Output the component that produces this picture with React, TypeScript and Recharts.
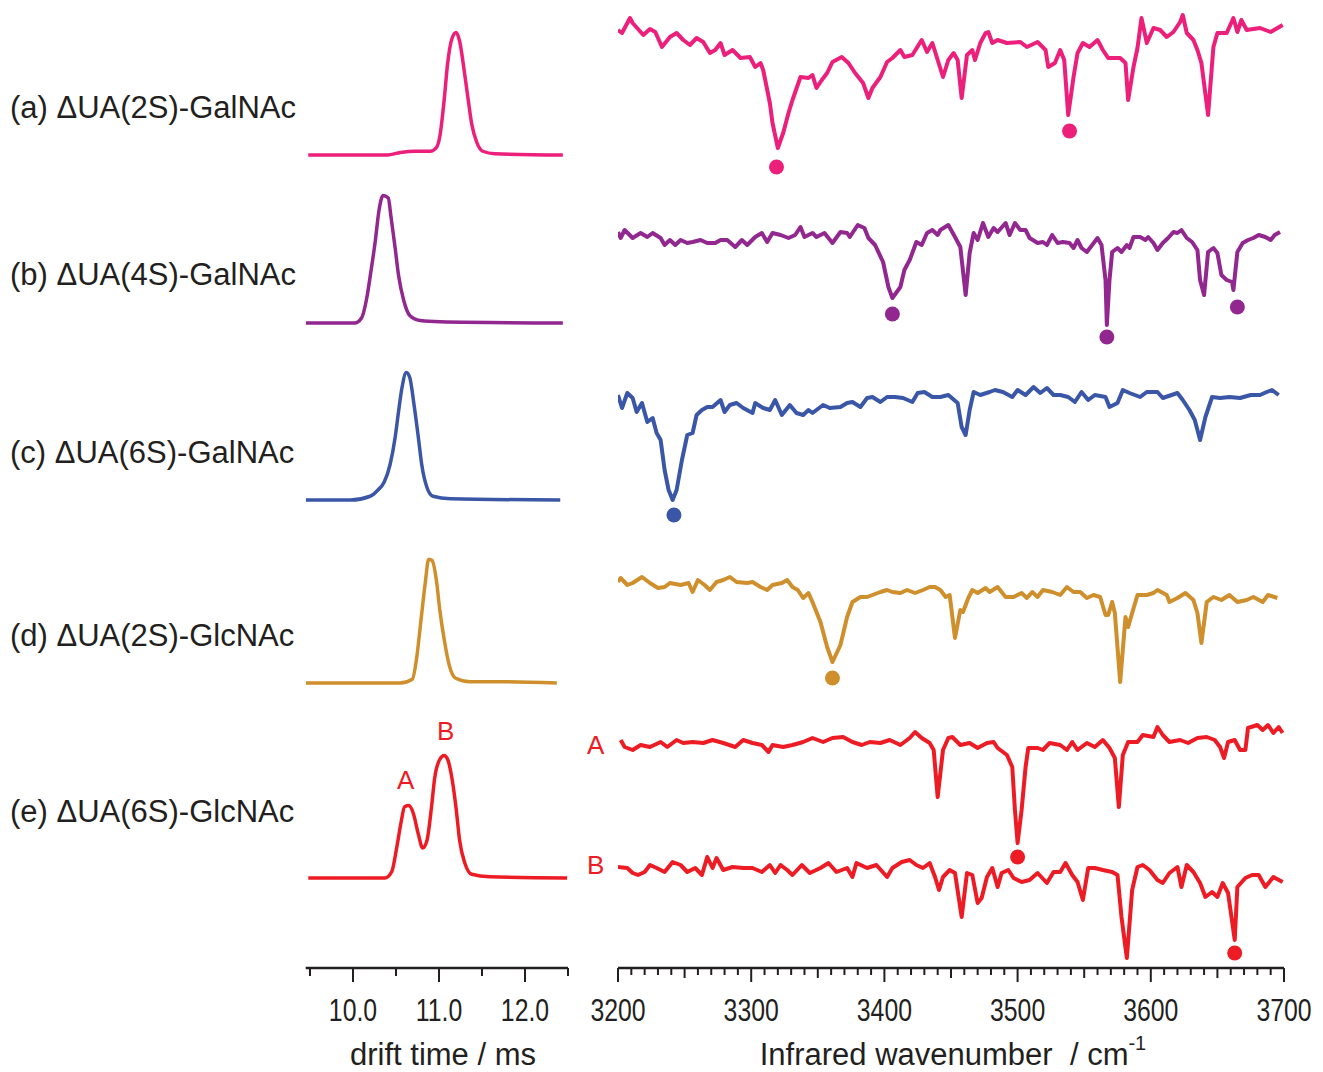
import React from 'react';
import { ComposedChart, Line, XAxis, YAxis, ReferenceDot } from 'recharts';

const FONT = "'Liberation Sans', Arial, Helvetica, sans-serif";
const INK = '#231f20';

const COL_A = '#ec1f7b';
const COL_B = '#92278f';
const COL_C = '#3a56a7';
const COL_D = '#cf8f2c';
const COL_E = '#ed1c24';

// ---------- drift time traces: [drift time (ms), relative intensity] ----------
const dtA: [number, number][] = [
  [9.48, 0], [10.4, 0], [10.55, 0.02], [10.72, 0.03], [10.9, 0.03], [10.97, 0.06], [11.01, 0.15],
  [11.06, 0.44], [11.1, 0.73], [11.15, 0.93], [11.2, 0.98], [11.24, 0.91], [11.29, 0.69], [11.34, 0.44],
  [11.38, 0.25], [11.44, 0.1], [11.51, 0.03], [11.65, 0.01], [12.44, 0],
];
const dtB: [number, number][] = [
  [9.45, 0], [10.02, 0], [10.1, 0.04], [10.16, 0.2], [10.21, 0.42], [10.26, 0.66], [10.3, 0.89],
  [10.35, 1.02], [10.41, 1.0], [10.44, 0.86], [10.49, 0.6], [10.53, 0.38], [10.59, 0.18], [10.66, 0.06],
  [10.78, 0.02], [11.01, 0.01], [12.44, 0],
];
const dtC: [number, number][] = [
  [9.45, 0], [9.97, 0], [10.2, 0.03], [10.29, 0.08], [10.36, 0.14], [10.43, 0.28], [10.49, 0.5],
  [10.53, 0.71], [10.57, 0.9], [10.62, 1.02], [10.66, 0.98], [10.71, 0.76], [10.76, 0.5], [10.8, 0.28],
  [10.86, 0.1], [10.93, 0.03], [11.13, 0.01], [12.41, 0],
];
const dtD: [number, number][] = [
  [9.45, 0], [10.55, 0], [10.69, 0.03], [10.74, 0.2], [10.79, 0.5], [10.84, 0.8], [10.88, 0.99],
  [10.92, 0.98], [10.97, 0.82], [11.01, 0.58], [11.06, 0.35], [11.12, 0.14], [11.19, 0.04],
  [11.36, 0.01], [11.71, 0.01], [12.37, 0],
];
const dtE: [number, number][] = [
  [9.48, 0], [10.37, 0], [10.45, 0.05], [10.51, 0.25], [10.56, 0.45], [10.6, 0.57], [10.65, 0.58],
  [10.7, 0.52], [10.76, 0.35], [10.81, 0.24], [10.86, 0.3], [10.91, 0.55], [10.95, 0.8], [11.01, 0.95],
  [11.06, 0.98], [11.1, 0.95], [11.15, 0.8], [11.2, 0.55], [11.24, 0.3], [11.3, 0.12], [11.38, 0.03],
  [11.59, 0.01], [12.49, 0],
];

// ---------- IR spectra: [wavenumber (cm-1), signal (arb.)] ----------
const irA: [number, number][] = [
  [3200, 0], [3203, -0.3], [3209, 1.2], [3211, 0.7], [3219, -0.5], [3224, 0.1], [3228, -0.2], [3233, -1.7],
  [3239, -0.7], [3244, -0.3], [3249, -1.0], [3254, -1.5], [3259, -0.8], [3264, -1.2], [3269, -2.3],
  [3273, -2.0], [3277, -1.3], [3280, -2.5], [3286, -2.0], [3292, -2.8], [3299, -2.7], [3303, -3.7],
  [3307, -3.3], [3309, -4.0], [3314, -7.3], [3316, -9.3], [3320, -11.8], [3324, -10.3], [3328, -8.3],
  [3331, -7.0], [3337, -4.7], [3343, -4.8], [3346, -4.5], [3349, -5.8], [3353, -5.0], [3357, -4.3],
  [3361, -3.2], [3368, -2.7], [3373, -3.3], [3378, -4.3], [3384, -5.3], [3388, -6.8], [3391, -5.8],
  [3397, -4.7], [3402, -3.2], [3406, -2.8], [3412, -2.0], [3415, -2.7], [3421, -2.5], [3428, -1.0],
  [3432, -2.2], [3436, -1.3], [3444, -4.7], [3448, -3.0], [3452, -2.3], [3455, -3.0], [3458, -6.8],
  [3462, -2.5], [3466, -2.0], [3468, -3.0], [3472, -1.3], [3476, -0.3], [3478, -0.2], [3481, -1.3],
  [3485, -1.0], [3492, -1.3], [3502, -1.2], [3507, -1.7], [3515, -1.2], [3521, -2.0], [3523, -3.7],
  [3528, -3.3], [3532, -2.0], [3535, -3.0], [3538, -8.5], [3542, -4.7], [3545, -2.3], [3549, -1.3],
  [3554, -1.7], [3560, -1.0], [3564, -2.0], [3568, -2.8], [3577, -2.8], [3581, -3.3], [3583, -7.0],
  [3587, -3.7], [3590, -1.8], [3593, 1.2], [3597, -1.3], [3602, 0.2], [3607, 0], [3612, -0.7],
  [3617, -0.2], [3622, 0.8], [3624, 1.5], [3627, -0.3], [3632, -1.0], [3635, -2.0], [3638, -3.3],
  [3643, -8.5], [3647, -1.7], [3650, -0.3], [3657, -0.3], [3662, 1.2], [3665, -0.2], [3668, 1.0],
  [3672, 0], [3682, 0.2], [3690, -0.2], [3699, 0.5],
];
const irB: [number, number][] = [
  [3200, 0.3], [3202, -0.3], [3205, 0.5], [3211, -0.3], [3217, 0.2], [3222, -0.2], [3226, 0.2], [3232, -0.3],
  [3235, -1.0], [3239, -0.5], [3243, -1.0], [3247, -0.5], [3252, -0.8], [3256, -0.7], [3262, -0.5],
  [3267, -0.8], [3273, -0.8], [3277, -0.5], [3282, -0.5], [3288, -1.2], [3293, -0.5], [3297, -1.0],
  [3303, -0.2], [3308, 0.2], [3312, -0.7], [3316, 0.2], [3322, 0], [3328, -0.3], [3333, 0], [3337, 0.8],
  [3340, -0.2], [3346, 0.2], [3349, -0.2], [3355, 0.2], [3361, -0.8], [3367, 0.3], [3372, 0.2],
  [3374, -0.2], [3380, 1.0], [3385, 0.7], [3388, -0.3], [3393, -1.0], [3399, -2.7], [3403, -5.2],
  [3406, -6.3], [3412, -5.2], [3415, -3.5], [3419, -2.5], [3424, -0.7], [3428, -1.0], [3432, 0.2],
  [3436, 0.5], [3440, 0], [3442, 0.5], [3448, 1.0], [3453, -0.2], [3457, -1.2], [3461, -6.0],
  [3464, -1.8], [3467, 0.2], [3470, -0.5], [3474, 1.2], [3478, -0.2], [3482, 0.7], [3485, 0.3],
  [3491, 1.2], [3494, 0], [3498, 1.2], [3502, 0.5], [3506, 0.5], [3509, -0.3], [3515, -0.8],
  [3519, -0.7], [3522, -1.0], [3526, 0], [3530, -0.8], [3534, -0.7], [3539, -0.8], [3542, -1.3],
  [3545, -0.5], [3548, -1.3], [3552, -1.7], [3556, -1.0], [3560, -0.3], [3563, -1.0], [3566, -4.5],
  [3567, -9.0], [3569, -4.5], [3571, -1.7], [3575, -1.3], [3578, -1.7], [3582, -1.0], [3584, -1.3],
  [3587, -0.2], [3592, -0.2], [3596, -0.5], [3598, -0.2], [3602, -0.8], [3605, -1.5], [3609, -0.8],
  [3613, -0.3], [3617, 0.3], [3620, 0.2], [3623, 0.5], [3627, -0.3], [3631, -0.7], [3635, -1.5],
  [3637, -4.5], [3640, -6.0], [3643, -1.7], [3647, -1.3], [3650, -1.8], [3653, -4.0], [3657, -4.5],
  [3661, -4.7], [3662, -5.5], [3665, -1.7], [3669, -0.8], [3673, -0.5], [3677, -0.3], [3681, 0],
  [3686, -0.2], [3690, -0.5], [3693, 0], [3697, 0.3],
];
const irC: [number, number][] = [
  [3200, 0.3], [3203, -1.0], [3207, 0.5], [3211, 0], [3214, -1.4], [3218, -0.5], [3222, -2.4],
  [3226, -2.0], [3229, -3.5], [3232, -4.2], [3235, -7.2], [3238, -9.2], [3241, -10.2], [3244, -9.2],
  [3248, -6.2], [3252, -3.7], [3256, -3.5], [3259, -1.7], [3263, -1.2], [3267, -0.9], [3271, -0.9],
  [3277, -0.2], [3280, -1.4], [3284, -0.7], [3289, -0.5], [3294, -1.0], [3301, -1.5], [3303, -0.5],
  [3309, -1.0], [3314, -1.2], [3318, -0.2], [3323, -1.7], [3329, -0.7], [3334, -1.5], [3339, -1.7],
  [3343, -1.2], [3346, -1.5], [3354, -0.7], [3359, -1.0], [3367, -0.9], [3372, -0.5], [3376, -0.4],
  [3382, -0.9], [3387, 0], [3391, 0.1], [3397, -0.4], [3402, 0.1], [3408, 0.1], [3414, 0], [3421, -0.4],
  [3425, 0.5], [3430, 0.6], [3436, 0.1], [3442, 0.1], [3448, 0.3], [3455, -0.5], [3458, -2.9],
  [3461, -3.7], [3464, -1.2], [3467, 0.6], [3472, 0.3], [3479, 0.6], [3483, 0.8], [3489, 0.6],
  [3496, 0.1], [3500, 0.8], [3506, 0.3], [3512, 1.1], [3517, 0.5], [3522, 1.0], [3527, 0.3], [3532, 0.3],
  [3538, 0.1], [3543, -0.4], [3548, 0.6], [3553, -0.2], [3558, 0.3], [3566, 0.1], [3569, -0.9],
  [3575, -0.5], [3579, 0.8], [3584, 0.5], [3592, 0.1], [3597, 0.6], [3605, 0.6], [3609, 0], [3620, 0.5],
  [3624, -0.2], [3629, -1.2], [3633, -2.2], [3637, -4.2], [3641, -1.9], [3646, 0.1], [3652, 0],
  [3659, 0.1], [3667, 0], [3675, 0.3], [3682, 0.3], [3687, 0.6], [3691, 0.8], [3696, 0.3],
];
const irD: [number, number][] = [
  [3200, 0.8], [3202, 1.2], [3207, 0.5], [3211, 0.7], [3218, 1.3], [3224, 0.7], [3230, 0.2], [3235, 0.3],
  [3239, 0.7], [3247, 0.5], [3253, 0.7], [3256, -0.2], [3260, 1.0], [3265, 0.5], [3269, 0], [3274, 0.8],
  [3279, 1.0], [3284, 1.3], [3289, 0.8], [3297, 0.7], [3301, 0.8], [3307, 0.3], [3312, 0], [3316, 0.5],
  [3323, 0.7], [3327, 1.0], [3331, 0.3], [3335, 0], [3339, -0.8], [3343, -0.3], [3346, -1.2],
  [3352, -3.2], [3357, -5.7], [3361, -7.2], [3367, -5.5], [3372, -2.7], [3376, -1.2], [3382, -0.7],
  [3387, -0.7], [3391, -0.5], [3397, -0.2], [3402, 0], [3406, -0.2], [3412, -0.3], [3417, 0],
  [3423, -0.3], [3429, 0], [3434, 0.3], [3438, 0.3], [3442, 0], [3446, -0.7], [3449, -0.5], [3453, -4.8],
  [3457, -2.0], [3459, -2.2], [3463, -0.8], [3466, 0], [3470, -0.3], [3476, 0.2], [3479, -0.2],
  [3485, 0.3], [3491, -0.7], [3497, -0.7], [3503, -0.3], [3507, -0.8], [3511, -0.2], [3515, -0.7],
  [3519, 0], [3526, -0.2], [3532, -0.5], [3537, 0.3], [3542, -0.2], [3547, -0.2], [3552, -0.8],
  [3557, -0.5], [3562, -0.7], [3566, -2.5], [3568, -2.5], [3571, -1.2], [3573, -2.3], [3577, -9.2],
  [3581, -2.7], [3583, -3.7], [3586, -2.3], [3590, -0.5], [3597, -0.5], [3602, -0.3], [3605, 0],
  [3612, -0.5], [3614, -1.2], [3620, -0.8], [3626, -0.3], [3632, -1.0], [3635, -2.3], [3638, -5.3],
  [3642, -1.2], [3647, -0.7], [3653, -1.0], [3659, -0.5], [3665, -1.2], [3672, -1.0], [3677, -0.7],
  [3684, -1.2], [3688, -0.5], [3695, -0.8],
];
const irEA: [number, number][] = [
  [3202, 0.3], [3205, -0.4], [3211, -0.7], [3217, -0.2], [3224, -0.4], [3232, 0.1], [3237, -0.4],
  [3244, 0.3], [3249, 0], [3256, 0.1], [3264, 0], [3271, 0.3], [3279, 0], [3288, -0.4], [3294, 0.3],
  [3301, 0], [3308, -0.2], [3313, -0.9], [3316, -0.2], [3324, -0.4], [3331, -0.2], [3339, 0.1],
  [3346, 0.5], [3354, 0.1], [3361, 0.5], [3369, 0.6], [3376, 0.1], [3383, -0.2], [3389, 0.1], [3397, 0],
  [3404, 0.3], [3412, -0.2], [3419, 0.5], [3423, 1.1], [3428, 0.5], [3434, 0], [3437, -0.7],
  [3440, -5.4], [3444, -0.7], [3448, 0.5], [3451, 0.6], [3457, -0.2], [3464, 0], [3470, -0.5],
  [3477, 0], [3482, 0.1], [3485, -0.5], [3492, -1.2], [3496, -2.4], [3498, -6.7], [3500, -10.0],
  [3503, -6.7], [3506, -2.4], [3508, -0.5], [3515, -0.5], [3519, -0.7], [3524, 0], [3532, -0.2],
  [3537, -0.7], [3541, 0.1], [3545, -0.7], [3552, 0], [3558, -0.4], [3564, 0.3], [3569, -0.5],
  [3573, -1.5], [3576, -6.4], [3579, -1.2], [3583, 0.1], [3590, 0.1], [3594, 0.8], [3602, 0.6],
  [3605, 1.6], [3609, 0.8], [3614, 0.1], [3622, 0.3], [3628, 0], [3635, 0.5], [3642, 0.6], [3648, 0.3],
  [3652, -0.4], [3655, -1.5], [3658, 0.1], [3663, 0.3], [3667, -0.7], [3671, -0.7], [3673, 1.5],
  [3680, 1.8], [3684, 1.3], [3688, 1.8], [3692, 1.0], [3696, 1.6], [3699, 1.0],
];
const irEB: [number, number][] = [
  [3200, 0.3], [3207, 0.2], [3211, -0.3], [3215, -0.5], [3220, -0.2], [3224, 0.5], [3229, 0.2],
  [3235, -0.2], [3241, 0.8], [3247, 0.5], [3252, -0.2], [3258, 0.2], [3263, -0.5], [3267, 1.3],
  [3271, 0.2], [3274, 1.2], [3279, 0], [3286, 0.3], [3294, 0.2], [3301, 0.2], [3308, -0.2], [3314, 0.5],
  [3318, -0.3], [3322, 0.5], [3327, 0], [3331, -0.5], [3338, 0.5], [3344, -0.3], [3352, 0.2],
  [3358, 0.7], [3364, -0.2], [3372, 0.2], [3376, -0.7], [3379, 0.7], [3387, 0.2], [3394, 0.5],
  [3402, -0.7], [3406, 0.2], [3413, 0.8], [3419, 1.0], [3424, 0.5], [3429, 0.2], [3434, 0.7],
  [3438, -0.7], [3441, -2.0], [3444, -0.7], [3449, 0], [3453, -0.3], [3458, -4.7], [3462, -0.3],
  [3466, -0.5], [3470, -3.3], [3473, -2.8], [3477, -0.7], [3481, 0.2], [3485, -1.7], [3488, -0.3],
  [3493, 0], [3497, -0.8], [3503, -1.2], [3509, -1.0], [3515, -0.3], [3522, -1.3], [3527, -0.2],
  [3532, -0.2], [3536, 0.7], [3541, -0.5], [3545, -1.2], [3549, -3.0], [3553, 0.2], [3558, 0.2],
  [3564, 0], [3571, -0.2], [3575, -0.5], [3578, -4.7], [3582, -8.8], [3586, -2.0], [3590, 0.3],
  [3594, 0.5], [3599, 0], [3605, -1.0], [3609, -1.3], [3614, -0.3], [3620, 0.3], [3623, -1.7],
  [3627, 0.5], [3632, -0.2], [3637, -1.3], [3641, -2.7], [3646, -2.2], [3650, -2.7], [3654, -1.3],
  [3658, -2.3], [3663, -7.0], [3665, -1.7], [3671, -0.8], [3676, -0.5], [3681, -0.5], [3686, -1.7],
  [3692, -0.7], [3699, -1.2],
];

// marked bands (dots under selected bands): [wavenumber, signal]
const markA: [number, number][] = [[3319, -13.7], [3539, -10.1]];
const markB: [number, number][] = [[3406, -7.9], [3567, -10.2], [3665, -7.2]];
const markC: [number, number][] = [[3242, -11.7]];
const markD: [number, number][] = [[3361, -8.8]];
const markEA: [number, number][] = [[3500, -11.4]];
const markEB: [number, number][] = [[3663, -8.3]];

// axis ticks
const DT_TICKS = [9.5, 10, 10.5, 11, 11.5, 12, 12.5];
const IR_LABELED = [3200, 3300, 3400, 3500, 3600, 3700];
const IR_TICKS = Array.from({ length: 51 }, (_, i) => 3200 + i * 10);

const LABELS = [
  '(a) \u0394UA(2S)-GalNAc',
  '(b) \u0394UA(4S)-GalNAc',
  '(c) \u0394UA(6S)-GalNAc',
  '(d) \u0394UA(2S)-GlcNAc',
  '(e) \u0394UA(6S)-GlcNAc',
];

// ---------- layout (stacking offsets, in axis units) ----------
const DT_OFFSETS = [6.504, 5.16, 3.744, 2.28, 0.72];
const IR_OFFSETS = [93.8, 73.3, 57.0, 37.8, 22.5, 9.8];
const LABEL_Y = [107, 274, 452, 635, 811];

const DT_SERIES = [
  { pts: dtA, color: COL_A },
  { pts: dtB, color: COL_B },
  { pts: dtC, color: COL_C },
  { pts: dtD, color: COL_D },
  { pts: dtE, color: COL_E },
];
const IR_SERIES = [
  { pts: irA, marks: markA, color: COL_A },
  { pts: irB, marks: markB, color: COL_B },
  { pts: irC, marks: markC, color: COL_C },
  { pts: irD, marks: markD, color: COL_D },
  { pts: irEA, marks: markEA, color: COL_E },
  { pts: irEB, marks: markEB, color: COL_E },
];

const shift = (pts: [number, number][], off: number) => pts.map(([x, y]) => ({ x, y: y + off }));

const W = 1323;
const H = 1072;

const DtTick = (p: any) => {
  const { x, y, payload } = p;
  const v = payload.value as number;
  const major = Number.isInteger(v);
  return (
    <g>
      <line x1={x} x2={x} y1={y} y2={y + (major ? 14 : 8)} stroke={INK} strokeWidth={2} />
      {major && (
        <text transform={`translate(${x},${y + 53}) scale(0.8,1)`} textAnchor="middle" fontFamily={FONT} fontSize={31} fill={INK}>
          {v.toFixed(1)}
        </text>
      )}
    </g>
  );
};

const IrTick = (p: any) => {
  const { x, y, payload } = p;
  const v = payload.value as number;
  const major = IR_LABELED.includes(v);
  const mid = v % 50 === 0;
  return (
    <g>
      <line x1={x} x2={x} y1={y} y2={y + (major ? 14 : mid ? 10 : 7)} stroke={INK} strokeWidth={2} />
      {major && (
        <text transform={`translate(${x},${y + 53}) scale(0.8,1)`} textAnchor="middle" fontFamily={FONT} fontSize={31} fill={INK}>
          {v}
        </text>
      )}
    </g>
  );
};

const abs = (left: number, top: number): React.CSSProperties => ({
  position: 'absolute', left, top, whiteSpace: 'nowrap', fontFamily: FONT,
});

export default function App() {
  return (
    <div style={{ position: 'absolute', left: 0, top: 0, width: W, height: H, background: '#fff' }}>
      {/* left panel: drift time */}
      <div style={{ position: 'absolute', left: 0, top: 0 }}>
        <ComposedChart width={W} height={H} margin={{ top: 0, right: 755, bottom: 44, left: 305.7 }}>
          <XAxis
            type="number" dataKey="x" domain={[9.45, 12.5]} allowDataOverflow ticks={DT_TICKS} interval={0}
            tick={DtTick} tickLine={false} tickSize={0} tickMargin={0} height={60}
            axisLine={{ stroke: INK, strokeWidth: 2.5 }}
          />
          <YAxis hide type="number" domain={[0, 7.744]} allowDataOverflow />
          {DT_SERIES.map((s, i) => (
            <Line key={i} data={shift(s.pts, DT_OFFSETS[i])} dataKey="y" type="monotone" stroke={s.color}
              strokeWidth={3.5} dot={false} isAnimationActive={false} strokeLinejoin="round" />
          ))}
        </ComposedChart>
      </div>
      {/* right panel: IR spectra */}
      <div style={{ position: 'absolute', left: 0, top: 0 }}>
        <ComposedChart width={W} height={H} margin={{ top: 0, right: 39, bottom: 44, left: 618 }}>
          <XAxis
            type="number" dataKey="x" domain={[3200, 3700]} allowDataOverflow ticks={IR_TICKS} interval={0}
            tick={IrTick} tickLine={false} tickSize={0} tickMargin={0} height={60}
            axisLine={{ stroke: INK, strokeWidth: 2.5 }}
          />
          <YAxis hide type="number" domain={[0, 96.8]} allowDataOverflow />
          {IR_SERIES.map((s, i) => (
            <Line key={i} data={shift(s.pts, IR_OFFSETS[i])} dataKey="y" type="linear" stroke={s.color}
              strokeWidth={4} dot={false} isAnimationActive={false} strokeLinejoin="round" />
          ))}
          {IR_SERIES.map((s, i) =>
            s.marks.map(([x, y], j) => (
              <ReferenceDot key={`${i}-${j}`} x={x} y={y + IR_OFFSETS[i]} r={7.5} fill={s.color} stroke="none" />
            ))
          )}
        </ComposedChart>
      </div>

      {/* sample labels */}
      {LABELS.map((t, i) => (
        <div key={i} style={{ ...abs(10, LABEL_Y[i] - 15), fontSize: 31, lineHeight: '31px', color: INK }}>{t}</div>
      ))}
      {/* A / B conformer labels */}
      <div style={{ ...abs(397, 767), fontSize: 26, lineHeight: '26px', color: COL_E }}>A</div>
      <div style={{ ...abs(437, 718), fontSize: 26, lineHeight: '26px', color: COL_E }}>B</div>
      <div style={{ ...abs(587, 732), fontSize: 26, lineHeight: '26px', color: COL_E }}>A</div>
      <div style={{ ...abs(587, 852), fontSize: 26, lineHeight: '26px', color: COL_E }}>B</div>

      {/* axis titles */}
      <div style={{ ...abs(293, 1038), width: 300, textAlign: 'center', fontSize: 31, lineHeight: '34px', color: INK }}>
        drift time / ms
      </div>
      <div style={{ ...abs(653, 1038), width: 600, textAlign: 'center', fontSize: 31, lineHeight: '34px', color: INK, whiteSpace: 'pre' }}>
        Infrared wavenumber  / cm<sup style={{ fontSize: 20, verticalAlign: 0, position: 'relative', top: -15 }}>-1</sup>
      </div>
    </div>
  );
}
